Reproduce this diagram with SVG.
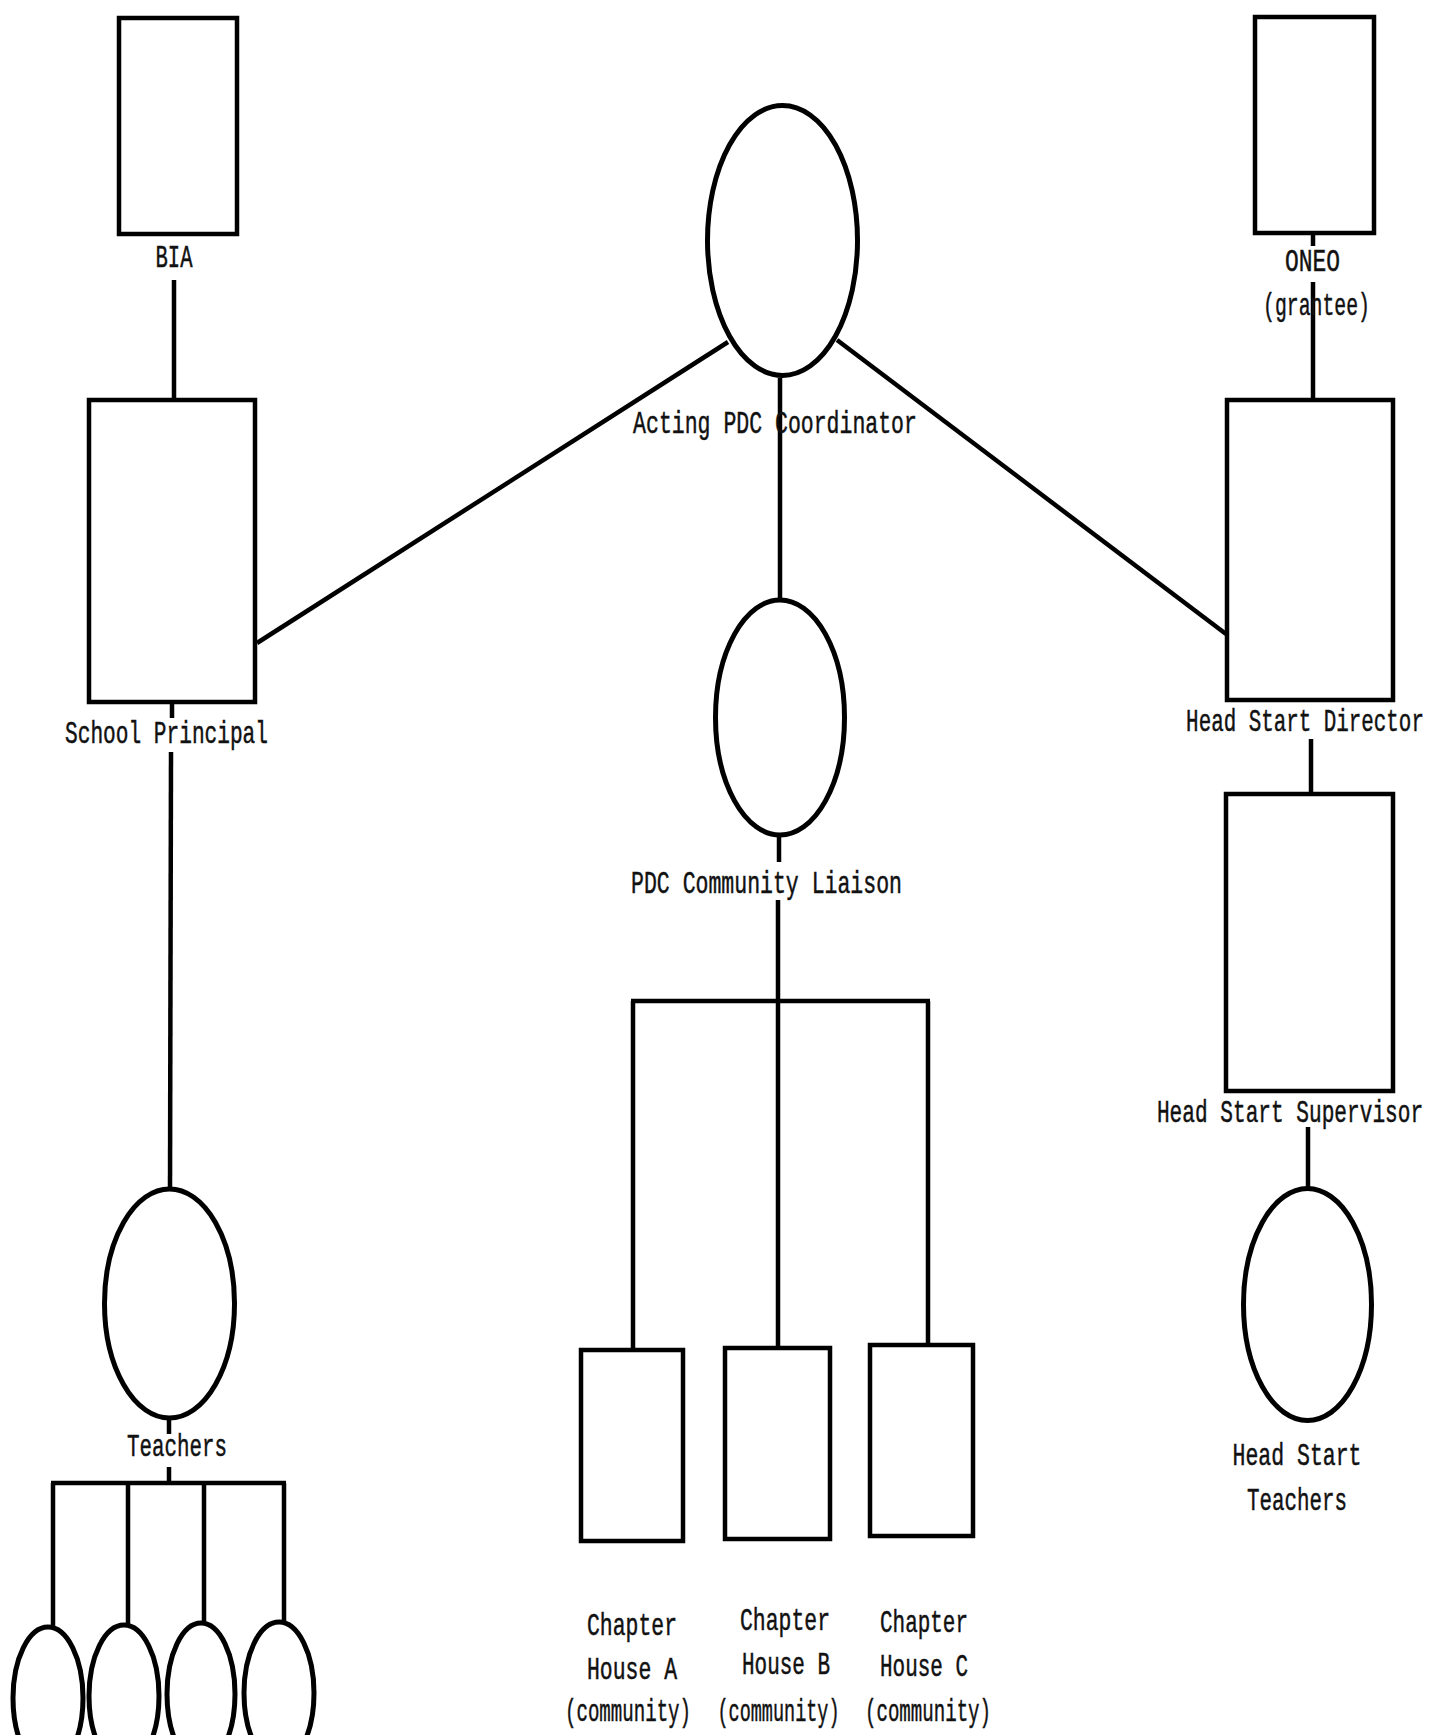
<svg xmlns="http://www.w3.org/2000/svg" width="1432" height="1735" viewBox="0 0 1432 1735">
<style>
.box{fill:none;stroke:#000;stroke-width:4.5}
.ell{fill:none;stroke:#000;stroke-width:5}
.ln{stroke:#000;stroke-width:4.5;fill:none;stroke-linecap:butt}
.t{font-family:"Liberation Mono","Courier New",monospace;font-size:32px;fill:#111;stroke:#111;stroke-width:0.5;text-anchor:middle}
</style>
<rect x="0" y="0" width="1432" height="1735" fill="#fff"/>
<g id="connectors">
<line class="ln" x1="174" y1="280" x2="174" y2="399"/>
<line class="ln" x1="172" y1="704" x2="172" y2="718"/>
<line class="ln" x1="171" y1="752" x2="170" y2="1188"/>
<line class="ln" x1="169" y1="1420" x2="169" y2="1434"/>
<line class="ln" x1="169" y1="1467" x2="169" y2="1483"/>
<line class="ln" x1="51" y1="1483" x2="286" y2="1483"/>
<line class="ln" x1="53" y1="1483" x2="53" y2="1626"/>
<line class="ln" x1="128" y1="1483" x2="128" y2="1624"/>
<line class="ln" x1="204" y1="1483" x2="204" y2="1622"/>
<line class="ln" x1="284" y1="1483" x2="284" y2="1621"/>
<line class="ln" x1="728" y1="342" x2="257" y2="643"/>
<line class="ln" x1="837" y1="340" x2="1226" y2="634"/>
<line class="ln" x1="780" y1="378" x2="780" y2="599"/>
<line class="ln" x1="779" y1="837" x2="779" y2="862"/>
<line class="ln" x1="778" y1="900" x2="778" y2="1347"/>
<line class="ln" x1="631" y1="1001" x2="930" y2="1001"/>
<line class="ln" x1="633" y1="1001" x2="633" y2="1349"/>
<line class="ln" x1="928" y1="1001" x2="928" y2="1344"/>
<line class="ln" x1="1313" y1="235" x2="1313" y2="246"/>
<line class="ln" x1="1313" y1="282" x2="1313" y2="399"/>
<line class="ln" x1="1311" y1="739" x2="1311" y2="793"/>
<line class="ln" x1="1308" y1="1127" x2="1308" y2="1187"/>
</g>
<g id="bia">
<rect class="box" x="119" y="18" width="118" height="216"/>
<text class="t" transform="translate(174 267) scale(0.642 1)">BIA</text>
</g>
<g id="school-principal">
<rect class="box" x="89" y="400" width="166" height="302"/>
<text class="t" transform="translate(166.5 743) scale(0.661 1)">School Principal</text>
</g>
<g id="teachers">
<ellipse class="ell" cx="169.5" cy="1303.5" rx="65" ry="114.5"/>
<text class="t" transform="translate(177 1456) scale(0.651 1)">Teachers</text>
</g>
<g id="teacher-1"><ellipse class="ell" cx="48" cy="1698" rx="35" ry="71"/></g>
<g id="teacher-2"><ellipse class="ell" cx="124" cy="1696" rx="35" ry="71"/></g>
<g id="teacher-3"><ellipse class="ell" cx="201" cy="1694" rx="34" ry="71"/></g>
<g id="teacher-4"><ellipse class="ell" cx="279" cy="1693" rx="35" ry="71"/></g>
<g id="acting-pdc-coordinator">
<ellipse class="ell" cx="782.5" cy="240.5" rx="75" ry="135"/>
<text class="t" transform="translate(775 433) scale(0.672 1)">Acting PDC Coordinator</text>
</g>
<g id="pdc-community-liaison">
<ellipse class="ell" cx="780" cy="717.5" rx="64.5" ry="117.5"/>
<text class="t" transform="translate(766.5 893) scale(0.672 1)">PDC Community Liaison</text>
</g>
<g id="chapter-house-a">
<rect class="box" x="581" y="1350" width="102" height="191"/>
<text class="t" transform="translate(632 1635) scale(0.67 1)">Chapter</text>
<text class="t" transform="translate(632 1679) scale(0.67 1)">House A</text>
<text class="t" transform="translate(628 1721) scale(0.597 1)">(community)</text>
</g>
<g id="chapter-house-b">
<rect class="box" x="725" y="1348" width="105" height="191"/>
<text class="t" transform="translate(785 1630) scale(0.67 1)">Chapter</text>
<text class="t" transform="translate(786 1674) scale(0.655 1)">House B</text>
<text class="t" transform="translate(778.5 1721) scale(0.578 1)">(community)</text>
</g>
<g id="chapter-house-c">
<rect class="box" x="870" y="1345" width="103" height="191"/>
<text class="t" transform="translate(924 1632) scale(0.655 1)">Chapter</text>
<text class="t" transform="translate(924 1676) scale(0.655 1)">House C</text>
<text class="t" transform="translate(928 1721) scale(0.597 1)">(community)</text>
</g>
<g id="oneo">
<rect class="box" x="1255" y="17" width="119" height="216"/>
<text class="t" transform="translate(1312.5 271) scale(0.716 1)">ONEO</text>
<text class="t" transform="translate(1316.5 315) scale(0.619 1)">(grantee)</text>
</g>
<g id="head-start-director">
<rect class="box" x="1227" y="400" width="166" height="300"/>
<text class="t" transform="translate(1305 731) scale(0.652 1)">Head Start Director</text>
</g>
<g id="head-start-supervisor">
<rect class="box" x="1226" y="794" width="167" height="297"/>
<text class="t" transform="translate(1290 1122) scale(0.66 1)">Head Start Supervisor</text>
</g>
<g id="head-start-teachers">
<ellipse class="ell" cx="1307.5" cy="1304.5" rx="64" ry="116"/>
<text class="t" transform="translate(1297 1465) scale(0.672 1)">Head Start</text>
<text class="t" transform="translate(1297 1510) scale(0.651 1)">Teachers</text>
</g>
</svg>
